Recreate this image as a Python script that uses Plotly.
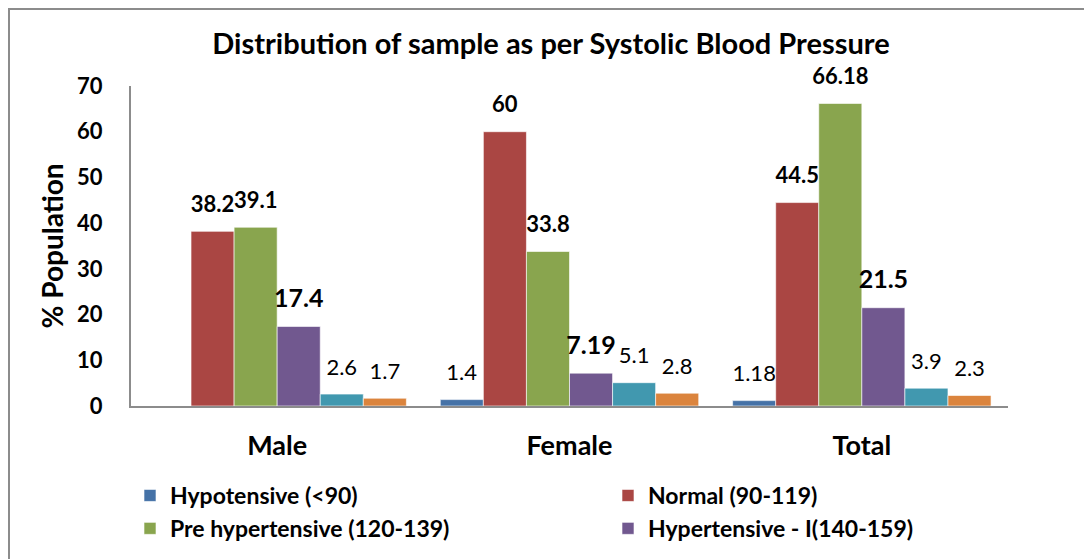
import plotly.graph_objects as go

categories = ["Male", "Female", "Total"]
series_names = [
    "Hypotensive (<90)",
    "Normal (90-119)",
    "Pre hypertensive (120-139)",
    "Hypertensive - I(140-159)",
    "Hypertensive - II(160-179)",
    "Hypertensive - III(≥180)",
]
hypotensive = [0, 1.4, 1.18]
normal = [38.2, 60, 44.5]
pre_hyper = [39.1, 33.8, 66.18]
hyper_1 = [17.4, 7.19, 21.5]
hyper_2 = [2.6, 5.1, 3.9]
hyper_3 = [1.7, 2.8, 2.3]

values = [hypotensive, normal, pre_hyper, hyper_1, hyper_2, hyper_3]
colors = ["#4572A7", "#AA4643", "#89A54E", "#71588F", "#4198AF", "#DB843D"]
label_bold = [False, True, True, True, False, False]
label_size = [22, 22, 22, 25, 22, 22]
legend_ref = ["legend", "legend2", "legend", "legend2", None, None]

FONT = "Lato"

OFF = 8  # default page body margin
W, H = 1092 - OFF, 559 - OFF
# target pixel positions (in screenshot coordinates)
PL, PR, PT, PB = 131, 1008, 86, 406
L, R, T, B = PL - OFF, W - (PR - OFF), PT - OFF, H - (PB - OFF)
pw, ph = W - L - R, H - T - B


def px_x(p):
    return (p - OFF - L) / pw


def px_y(p):
    return (H - B - (p - OFF)) / ph


fig = go.Figure()
for name, vals, col, bold, size, lg in zip(series_names, values, colors, label_bold, label_size, legend_ref):
    txt = []
    for v in vals:
        if v == 0:
            txt.append("")
        else:
            s = f"{v:g}"
            s = f"<b>{s}</b>" if bold else s
            # small trailing line lifts the label a bit above the bar, as in the original
            txt.append(f"<span style='font-size:{size}px'>{s}</span><br>&nbsp;")
    kw = dict(showlegend=False) if lg is None else dict(legend=lg)
    fig.add_trace(go.Bar(
        name=name, x=categories, y=vals,
        marker=dict(color=col, line=dict(color="rgba(255,255,255,0.6)", width=1)),
        text=txt, textposition="outside", cliponaxis=False, constraintext="none",
        textfont=dict(family=FONT, size=11, color="black"),
        **kw,
    ))

fig.update_layout(
    width=W, height=H,
    margin=dict(l=L, r=R, t=T, b=B, autoexpand=False),
    paper_bgcolor="white", plot_bgcolor="white",
    barmode="group", bargap=0.116, bargroupgap=0,
    font=dict(family=FONT, color="black"),
    title=dict(text="<b>Distribution of sample as per Systolic Blood Pressure</b>",
               x=px_x(551), xref="paper", xanchor="center",
               y=1 - (44 - OFF) / H, yanchor="middle",
               font=dict(family=FONT, size=29, color="black")),
    xaxis=dict(showline=True, linecolor="#8c8c8c", linewidth=2, ticks="",
               tickfont=dict(family=FONT, size=27, color="black", weight="bold"),
               ticklabelstandoff=15, showgrid=False),
    yaxis=dict(range=[0, 70], dtick=10, showline=True, linecolor="#8c8c8c", linewidth=2,
               ticks="", showgrid=False, zeroline=False, tickformat="d",
               tickfont=dict(family=FONT, size=22, color="black", weight="bold"),
               ticklabelstandoff=22,
               title=dict(text="<b>% Population</b>", standoff=5,
                          font=dict(family=FONT, size=28, color="black"))),
    legend=dict(x=px_x(130), y=px_y(474), xanchor="left", yanchor="top",
                orientation="v", font=dict(family=FONT, size=23, color="black", weight="bold"),
                tracegroupgap=0, bgcolor="rgba(0,0,0,0)"),
    legend2=dict(x=px_x(608), y=px_y(474), xanchor="left", yanchor="top",
                 orientation="v", font=dict(family=FONT, size=23, color="black", weight="bold"),
                 tracegroupgap=0, bgcolor="rgba(0,0,0,0)"),
    showlegend=True,
)

# outer chart-area border (its right and bottom edges fall outside the picture)
fig.add_shape(type="rect", xref="paper", yref="paper",
              x0=px_x(OFF + 1), x1=px_x(1400), y0=px_y(900), y1=px_y(OFF + 1),
              line=dict(color="#8c8c8c", width=2), fillcolor="rgba(0,0,0,0)", layer="below")

fig.write_html("out.html")
